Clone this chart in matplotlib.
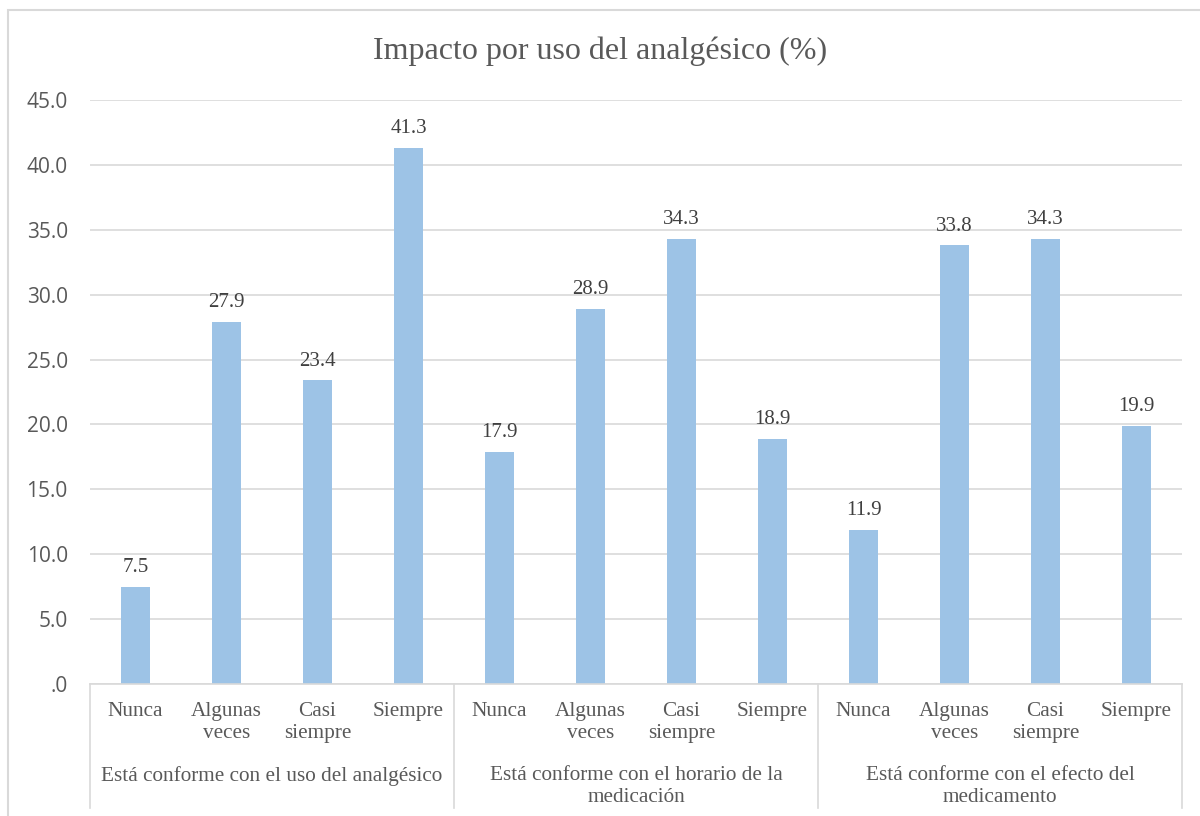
import matplotlib.pyplot as plt
import matplotlib.transforms as mtransforms
from matplotlib.patches import Rectangle
from matplotlib.ticker import FuncFormatter

# Data
groups = ['Está conforme con el uso del analgésico',
          'Está conforme con el horario de la\nmedicación',
          'Está conforme con el efecto del\nmedicamento']
answers = ['Nunca', 'Algunas\nveces', 'Casi\nsiempre', 'Siempre']
uso = [7.5, 27.9, 23.4, 41.3]
horario = [17.9, 28.9, 34.3, 18.9]
efecto = [11.9, 33.8, 34.3, 19.9]

values = uso + horario + efecto
labels = answers * len(groups)

serif = 'Liberation Serif'
gray = '#595959'
bar_color = '#9DC3E6'
grid_color = '#D9D9D9'

fig = plt.figure(figsize=(12, 8.16), dpi=100)
ax = fig.add_axes([0.075, 0.1618, 0.91, 0.7157])

# outer chart border
fig.patches.append(Rectangle((8 / 1200, -0.2), 1.2, 1 - 10 / 816 + 0.2,
                             transform=fig.transFigure, fill=False,
                             edgecolor=grid_color, linewidth=1.5))

x = list(range(len(values)))
bars = ax.bar(x, values, width=0.32, color=bar_color, zorder=2)

for xi, v in zip(x, values):
    ax.annotate(f'{v:.1f}', (xi, v), xytext=(0, 7), textcoords='offset points',
                ha='center', va='bottom', fontsize=15, family=serif, color='#404040')

ax.set_xlim(-0.5, len(values) - 0.5)
ax.set_ylim(0, 45)
ax.set_yticks([i * 5 for i in range(10)])
ax.yaxis.set_major_formatter(FuncFormatter(lambda v, p: '.0' if v == 0 else f'{v:.1f}'))
ax.tick_params(axis='y', length=0, pad=16, labelsize=15, labelcolor=gray)
ax.tick_params(axis='x', length=0, labelbottom=False)
for lbl in ax.get_yticklabels():
    lbl.set_family('Open Sans')

ax.grid(axis='y', color=grid_color, linewidth=1.2, zorder=0)
for s in ['left', 'right', 'top']:
    ax.spines[s].set_visible(False)
ax.spines['bottom'].set_color(grid_color)
ax.spines['bottom'].set_linewidth(1.2)

trans = mtransforms.blended_transform_factory(ax.transData, ax.transAxes)

# category labels
for xi, lab in zip(x, labels):
    ax.annotate(lab, (xi, 0), xycoords=trans, xytext=(0, -13), textcoords='offset points',
                ha='center', va='top', fontsize=15.3, family=serif, color=gray,
                linespacing=1.22)

# group labels and separators
n = len(answers)
for gi, g in enumerate(groups):
    center = gi * n + (n - 1) / 2
    ax.annotate(g, (center, 0), xycoords=trans, xytext=(0, -59), textcoords='offset points',
                ha='center', va='top', fontsize=15.3, family=serif, color=gray,
                linespacing=1.22)
for b in range(len(groups) + 1):
    xb = b * n - 0.5
    ax.plot([xb, xb], [0, -0.212], transform=trans, color=grid_color,
            linewidth=1.2, clip_on=False)

fig.text(0.5, 1 - 51 / 816, 'Impacto por uso del analgésico (%)', ha='center', va='center',
         fontsize=23, family=serif, color=gray)

plt.savefig('out.png', dpi=100)
